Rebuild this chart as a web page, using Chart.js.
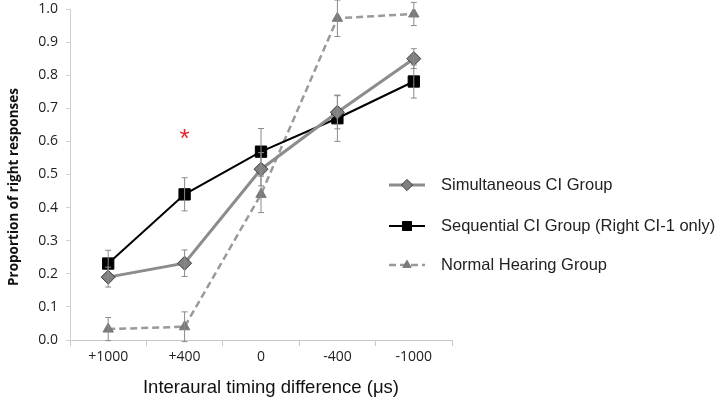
<!DOCTYPE html>
<html>
<head>
<meta charset="utf-8">
<script src="https://cdn.jsdelivr.net/npm/chart.js@4"></script>
<style>
  html, body { margin: 0; padding: 0; background: #fff; }
  #wrap { width: 720px; height: 402px; position: relative; }
</style>
</head>
<body>
<div id="wrap"><canvas id="itdChart"></canvas></div>
<script>
// timing conditions, left to right
const categories = ["+1000", "+400", "0", "-400", "-1000"];

// proportion of right responses per group
const simultaneous = [0.19, 0.232, 0.516, 0.688, 0.85];
const sequential = [0.231, 0.44, 0.569, 0.67, 0.781];
const normalHearing = [0.033, 0.04, 0.44, 0.972, 0.985];

// error bar half-widths
const simultaneousErr = [0.03, 0.04, 0.05, 0.05, 0.03];
const sequentialErr = [0.04, 0.05, 0.07, 0.07, 0.05];
const normalHearingErr = [0.035, 0.045, 0.055, 0.055, 0.035];

const yTicks = [0, 0.1, 0.2, 0.3, 0.4, 0.5, 0.6, 0.7, 0.8, 0.9, 1.0];

const xTitle = "Interaural timing difference (μs)";
const yTitle = "Proportion of right responses";

// significance marker
const starCategory = "+400";
const starValue = 0.62;

const errorBars = {
  id: "errorBars",
  afterDatasetsDraw(chart) {
    const ctx = chart.ctx;
    const x = chart.scales.x, y = chart.scales.y;
    ctx.save();
    ctx.strokeStyle = "#8a8a8a";
    ctx.lineWidth = 1;
    chart.data.datasets.forEach(ds => {
      ds.data.forEach((v, i) => {
        const px = x.getPixelForValue(i);
        const top = y.getPixelForValue(v + ds.err[i]);
        const bot = y.getPixelForValue(v - ds.err[i]);
        ctx.beginPath();
        ctx.moveTo(px, top); ctx.lineTo(px, bot);
        ctx.moveTo(px - 3, top); ctx.lineTo(px + 3, top);
        ctx.moveTo(px - 3, bot); ctx.lineTo(px + 3, bot);
        ctx.stroke();
      });
    });
    // asterisk
    ctx.fillStyle = "#e8262a";
    ctx.font = "26px 'Liberation Sans', Arial";
    ctx.textAlign = "center";
    ctx.textBaseline = "middle";
    ctx.fillText("*", x.getPixelForValue(categories.indexOf(starCategory)), y.getPixelForValue(starValue) + 5);
    ctx.restore();
  }
};

// axis titles, placed where the original has them
const axisTitles = {
  id: "axisTitles",
  afterDraw(chart) {
    const ctx = chart.ctx;
    ctx.save();
    ctx.fillStyle = "#111";
    ctx.textAlign = "center";
    ctx.textBaseline = "middle";
    ctx.font = "18.5px 'Liberation Sans', Arial";
    ctx.fillText(xTitle, 271, 388);
    ctx.translate(14, 187);
    ctx.rotate(-Math.PI / 2);
    ctx.font = "bold 13.5px 'Open Sans', sans-serif";
    ctx.fillText(yTitle, 0, 0);
    ctx.restore();
  }
};

const sideLegend = {
  id: "sideLegend",
  afterDraw(chart) {
    const ctx = chart.ctx;
    const rows = [185, 226, 265];
    ctx.save();
    chart.data.datasets.forEach((ds, i) => {
      const yy = rows[i];
      ctx.strokeStyle = ds.borderColor;
      ctx.lineWidth = ds.borderWidth;
      ctx.setLineDash(ds.borderDash || []);
      ctx.beginPath();
      ctx.moveTo(389, yy); ctx.lineTo(425, yy);
      ctx.stroke();
      ctx.setLineDash([]);
      ctx.fillStyle = ds.pointBackgroundColor;
      ctx.strokeStyle = ds.pointBorderColor;
      ctx.lineWidth = 1;
      Chart.helpers.drawPoint(ctx, {
        pointStyle: ds.pointStyle,
        radius: ds.pointRadius * 0.8,
        borderWidth: 1
      }, 407, yy);
      ctx.fillStyle = "#222";
      ctx.font = "16.5px 'Liberation Sans', Arial";
      ctx.textAlign = "left";
      ctx.textBaseline = "middle";
      ctx.fillText(ds.label, 441, yy);
    });
    ctx.restore();
  }
};

new Chart(document.getElementById("itdChart"), {
  type: "line",
  data: {
    labels: categories,
    datasets: [
      {
        label: "Simultaneous CI Group",
        data: simultaneous,
        err: simultaneousErr,
        borderColor: "#8c8c8c",
        borderWidth: 3,
        pointStyle: "rectRot",
        pointRadius: 7,
        pointBackgroundColor: "#808080",
        pointBorderColor: "#3a3a3a",
        pointBorderWidth: 1,
        tension: 0
      },
      {
        label: "Sequential CI Group (Right CI-1 only)",
        data: sequential,
        err: sequentialErr,
        borderColor: "#000",
        borderWidth: 2,
        pointStyle: "rect",
        pointRadius: 8,
        pointBackgroundColor: "#000",
        pointBorderColor: "#000",
        pointBorderWidth: 1,
        tension: 0
      },
      {
        label: "Normal Hearing Group",
        data: normalHearing,
        err: normalHearingErr,
        borderColor: "#9a9a9a",
        borderWidth: 2.5,
        borderDash: [7, 4],
        pointStyle: "triangle",
        pointRadius: 6,
        pointBackgroundColor: "#7a7a7a",
        pointBorderColor: "#7a7a7a",
        pointBorderWidth: 1,
        tension: 0
      }
    ]
  },
  options: {
    responsive: true,
    maintainAspectRatio: false,
    animation: false,
    layout: { padding: { top: 0, right: 268, left: 0, bottom: 0 } },
    plugins: {
      legend: { display: false },
      tooltip: { enabled: false }
    },
    scales: {
      x: {
        offset: true,
        grid: { offset: true, drawOnChartArea: false, drawTicks: true, tickLength: 6, color: "#c8c8c8" },
        border: { display: true, color: "#c8c8c8", width: 1 },
        ticks: { color: "#222", font: { size: 14, family: "'Open Sans', sans-serif" }, padding: 3 },
        afterFit: s => { s.height = 62; }
      },
      y: {
        min: 0,
        max: 1,
        afterBuildTicks: s => { s.ticks = yTicks.map(v => ({ value: v })); },
        grid: { drawOnChartArea: false, drawTicks: true, tickLength: 4, color: "#d0d0d0" },
        border: { display: true, color: "#d0d0d0", width: 1 },
        ticks: {
          color: "#222",
          font: { size: 14, family: "'Open Sans', sans-serif" },
          padding: 8,
          callback: v => Number(v).toFixed(1)
        },
        afterFit: s => { s.width = 70; s.paddingTop = 8; }
      }
    }
  },
  plugins: [errorBars, axisTitles, sideLegend]
});
</script>
</body>
</html>
